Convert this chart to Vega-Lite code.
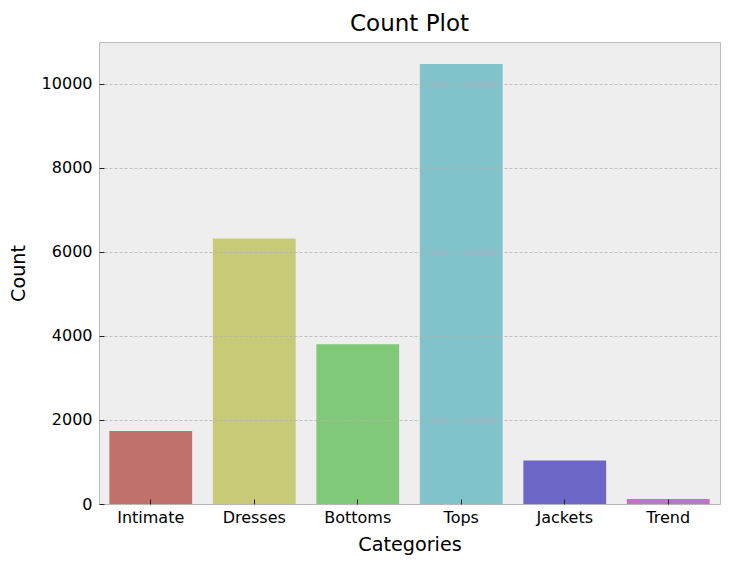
{
  "$schema": "https://vega.github.io/schema/vega-lite/v6.json",
  "autosize": {"type": "none"},
  "padding": {"left": 99, "top": 42, "right": 12, "bottom": 65},
  "width": 621,
  "height": 462,
  "background": "white",
  "title": {
    "text": "Count Plot",
    "fontSize": 23,
    "font": "DejaVu Sans",
    "fontWeight": "normal",
    "color": "#000000",
    "baseline": "alphabetic",
    "offset": -12,
    "anchor": "middle"
  },
  "data": {"values": [
    {"category": "Intimate", "count": 1735},
    {"category": "Dresses", "count": 6319},
    {"category": "Bottoms", "count": 3799},
    {"category": "Tops", "count": 10468},
    {"category": "Jackets", "count": 1032},
    {"category": "Trend", "count": 119}
  ]},
  "mark": {"type": "bar"},
  "encoding": {
    "x": {
      "field": "category", "type": "nominal", "sort": null,
      "title": "Categories",
      "scale": {"paddingInner": 0.2, "paddingOuter": 0.1},
      "axis": {"labelAngle": 0, "grid": false, "domain": false, "tickSize": -5, "tickColor": "#222222", "labelPadding": 10, "titlePadding": 10, "zindex": 1}
    },
    "y": {
      "field": "count", "type": "quantitative",
      "title": "Count",
      "scale": {"domain": [0, 10991], "nice": false},
      "axis": {"values": [0, 2000, 4000, 6000, 8000, 10000], "format": "d", "domain": false, "tickSize": -5, "tickColor": "#222222", "labelPadding": 12, "titlePadding": 13, "grid": true, "gridColor": "#b2b2b2", "gridDash": [3, 2], "gridWidth": 0.8, "zindex": 1}
    },
    "color": {
      "field": "category", "type": "nominal", "sort": null, "legend": null,
      "scale": {
        "domain": ["Intimate", "Dresses", "Bottoms", "Tops", "Jackets", "Trend"],
        "range": ["#c0716a", "#c7cb77", "#80c978", "#80c3ca", "#6c67c7", "#c372c8"]
      }
    }
  },
  "config": {
    "view": {"fill": "#eeeeee", "stroke": "#bcbcbc", "strokeWidth": 1},
    "axis": {
      "labelFont": "DejaVu Sans", "labelFontSize": 16, "labelColor": "#000000",
      "titleFont": "DejaVu Sans", "titleFontSize": 19.2, "titleFontWeight": "normal", "titleColor": "#000000"
    }
  }
}
